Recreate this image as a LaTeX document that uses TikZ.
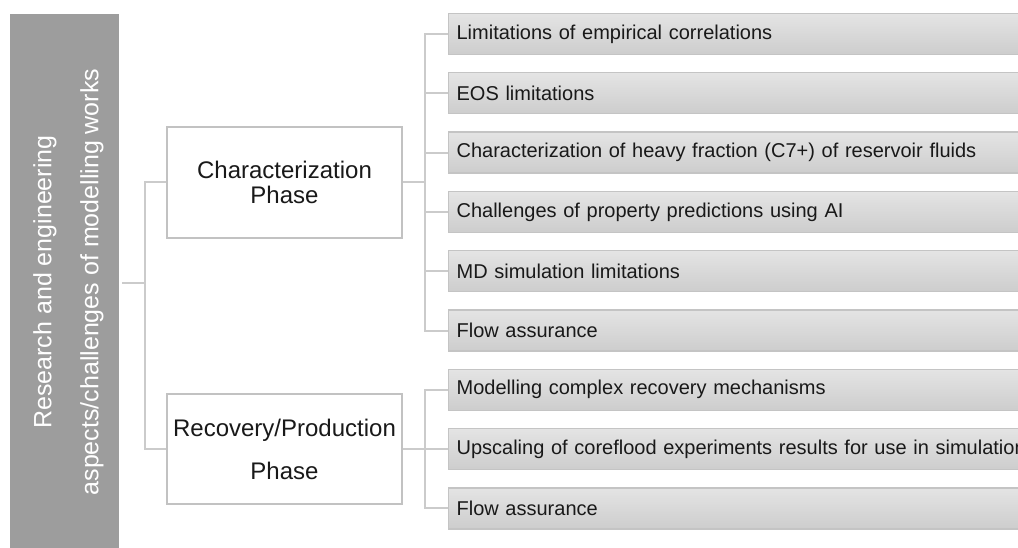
\documentclass[tikz,border=0pt]{standalone}
\usepackage{fontspec}
\setmainfont{Liberation Sans}
\begin{document}
\begin{tikzpicture}[x=1pt,y=-1pt,
  conn/.style={draw=linegray,line width=2pt},
  barbox/.style={fill=bargray,text=white,minimum width=109pt,minimum height=534pt,inner sep=0pt},
  phasebox/.style={draw=boxedge,line width=1.6pt,fill=white,minimum width=235pt,inner sep=0pt,align=center,text=black!90},
  itembox/.style={draw=itemedge,line width=1.2pt,top color=itemtop,bottom color=itembot,
     anchor=west,minimum height=41pt,text width=584pt,inner xsep=8pt,inner ysep=0pt,align=left,
     font=\fontsize{20}{24}\selectfont,text=black!90}]
\definecolor{bargray}{HTML}{9D9D9D}
\definecolor{linegray}{HTML}{CBCBCB}
\definecolor{boxedge}{HTML}{C2C2C2}
\definecolor{itemedge}{HTML}{C4C4C4}
\definecolor{itemtop}{HTML}{E4E4E4}
\definecolor{itembot}{HTML}{CDCDCD}
\useasboundingbox (0,0) rectangle (1018,548);
\clip (0,0) rectangle (1018,548);

\node[barbox] (bar) at (64.5,281) {};
\node[rotate=90,text=white,align=center,font=\fontsize{25}{47}\selectfont] (bartext) at (68.5,282)
  {Research and engineering\\aspects/challenges of modelling works};

\node[phasebox,minimum height=111pt,font=\fontsize{24}{25.5}\selectfont] (char) at (284.5,182.5) {Characterization\\Phase};
\node[phasebox,minimum height=110pt,font=\fontsize{24}{43}\selectfont] (rec) at (284.5,449) {Recovery/Production\\Phase};

\node[itembox] (b1) at (448,34.0) {Limitations of empirical correlations};
\node[itembox] (b2) at (448,93.3) {EOS limitations};
\node[itembox] (b3) at (448,152.6) {Characterization of heavy fraction (C7+) of reservoir fluids};
\node[itembox] (b4) at (448,211.9) {Challenges of property predictions using AI};
\node[itembox] (b5) at (448,271.2) {MD simulation limitations};
\node[itembox] (b6) at (448,330.5) {Flow assurance};
\node[itembox] (b7) at (448,389.8) {Modelling complex recovery mechanisms};
\node[itembox] (b8) at (448,449.1) {Upscaling of coreflood experiments results for use in simulation};
\node[itembox] (b9) at (448,508.4) {Flow assurance};

\coordinate (j0) at (122,283);
\coordinate (j1) at (145,283);
\coordinate (k1) at (425,182.5);
\coordinate (k2) at (425,449);

\draw[conn] (j0) -- (j1);
\draw[conn] (char.west) -| (j1);
\draw[conn] (rec.west) -| (j1);
\draw[conn] (char.east) -- (k1);
\foreach \b in {b1,b2,b3,b4,b5,b6} \draw[conn] (k1) |- (\b.west);
\draw[conn] (rec.east) -- (k2);
\foreach \b in {b7,b8,b9} \draw[conn] (k2) |- (\b.west);
\end{tikzpicture}
\end{document}
